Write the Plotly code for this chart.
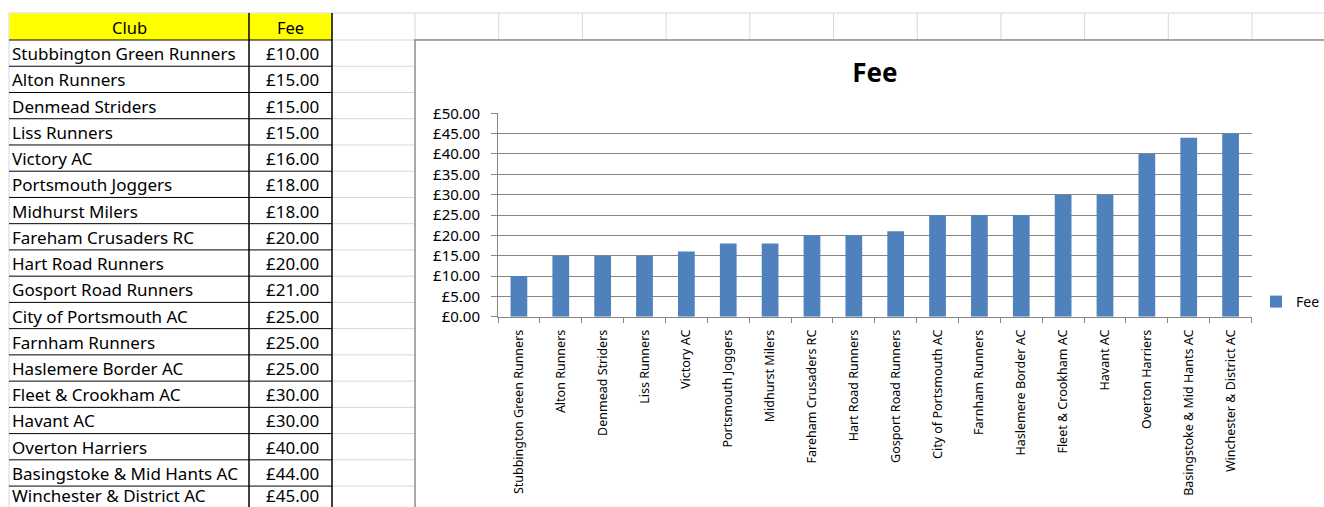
import plotly.graph_objects as go

clubs = ["Stubbington Green Runners", "Alton Runners", "Denmead Striders", "Liss Runners",
         "Victory AC", "Portsmouth Joggers", "Midhurst Milers", "Fareham Crusaders RC",
         "Hart Road Runners", "Gosport Road Runners", "City of Portsmouth AC", "Farnham Runners",
         "Haslemere Border AC", "Fleet & Crookham AC", "Havant AC", "Overton Harriers",
         "Basingstoke & Mid Hants AC", "Winchester & District AC"]
fees = [10, 15, 15, 15, 16, 18, 18, 20, 20, 21, 25, 25, 25, 30, 30, 40, 44, 45]
header = ["Club", "Fee"]
series_name = "Fee"

W, H = 1324, 507
FONT = "Noto Sans"
BAR = "#4F81BD"
GRID = "#868686"
SHEET = "#D0D7E5"
TABLE_FONT = 17


def px(x):
    return x / W


def py(y):
    return 1 - y / H


shapes = []
annotations = []

# spreadsheet grid (light lines)
row_top = 13.0
row_h0 = 27.0
row_h = 26.24
rows_y = [row_top, row_top + row_h0] + [row_top + row_h0 + row_h * (i + 1) for i in range(len(clubs) + 1)]
col_x = [415 + 83.7 * i for i in range(12)]
for y in rows_y:
    shapes.append(dict(type="line", xref="paper", yref="paper", x0=px(332), x1=px(1324),
                       y0=py(y), y1=py(y), line=dict(color=SHEET, width=1), layer="below"))
for x in col_x:
    shapes.append(dict(type="line", xref="paper", yref="paper", x0=px(x), x1=px(x),
                       y0=py(13), y1=py(40), line=dict(color=SHEET, width=1), layer="below"))
shapes.append(dict(type="line", xref="paper", yref="paper", x0=px(9), x1=px(332),
                   y0=py(13), y1=py(13), line=dict(color=SHEET, width=1), layer="below"))
shapes.append(dict(type="line", xref="paper", yref="paper", x0=px(9), x1=px(9),
                   y0=py(13), y1=py(H + 5), line=dict(color=SHEET, width=1), layer="below"))

# header fill
shapes.append(dict(type="rect", xref="paper", yref="paper", x0=px(9.5), x1=px(332), y0=py(13.5), y1=py(40),
                   fillcolor="#FFFF00", line=dict(width=0), layer="below"))
annotations.append(dict(text=header[0], xref="paper", yref="paper", x=px(129), y=py(27), showarrow=False,
                        xanchor="center", yanchor="middle", borderpad=0,
                        font=dict(family=FONT, size=TABLE_FONT - 0.5, color="#000000")))
annotations.append(dict(text=header[1], xref="paper", yref="paper", x=px(290.5), y=py(27), showarrow=False,
                        xanchor="center", yanchor="middle", borderpad=0,
                        font=dict(family=FONT, size=TABLE_FONT - 0.5, color="#000000")))

# table borders
for y in rows_y[1:]:
    shapes.append(dict(type="line", xref="paper", yref="paper", x0=px(9), x1=px(332),
                       y0=py(y), y1=py(y), line=dict(color="#000000", width=1)))
for x in (249, 332):
    shapes.append(dict(type="line", xref="paper", yref="paper", x0=px(x), x1=px(x),
                       y0=py(13), y1=py(H + 5), line=dict(color="#000000", width=1.5)))

# table cells
n = len(clubs)
for i, (c, f) in enumerate(zip(clubs, fees)):
    yc = (rows_y[i + 1] + rows_y[i + 2]) / 2 + 0.5
    if i == n - 1:
        yc = min(yc, 495.8)
    annotations.append(dict(text=c, xref="paper", yref="paper", x=px(11), y=py(yc), showarrow=False,
                            xanchor="left", yanchor="middle", borderpad=0,
                            font=dict(family=FONT, size=TABLE_FONT, color="#000000")))
    annotations.append(dict(text="£%.2f" % f, xref="paper", yref="paper", x=px(292.5), y=py(yc),
                            showarrow=False, xanchor="center", yanchor="middle", borderpad=0,
                            font=dict(family=FONT, size=TABLE_FONT, color="#000000")))

# chart area
shapes.append(dict(type="rect", xref="paper", yref="paper", x0=px(415), x1=px(W + 10), y0=py(40), y1=py(H + 10),
                   fillcolor="#FFFFFF", line=dict(color="#8C8C8C", width=1.5), layer="below"))

fig = go.Figure()
fig.add_trace(go.Bar(x=clubs, y=fees, name=series_name, marker=dict(color=BAR, line=dict(width=0)),
                     showlegend=True))

fig.update_layout(
    width=W, height=H,
    margin=dict(l=0, r=0, t=0, b=0, pad=0, autoexpand=False),
    paper_bgcolor="#FFFFFF", plot_bgcolor="rgba(0,0,0,0)",
    bargap=0.6,
    shapes=shapes,
    annotations=annotations,
    title=dict(text="<b>Fee</b>", x=px(875), y=py(73), xref="paper", yref="paper",
               xanchor="center", yanchor="middle", font=dict(family=FONT, size=26, color="#000000")),
    legend=dict(x=px(1256), y=py(302), xanchor="left", yanchor="middle", bgcolor="rgba(0,0,0,0)",
                font=dict(family=FONT, size=14, color="#000000"), itemwidth=30),
    xaxis=dict(domain=[px(498), px(1251.5)], tickangle=-90, showgrid=False,
               showline=True, linecolor=GRID, linewidth=1, ticks="outside", ticklen=5, tickcolor=GRID,
               tickson="boundaries", tickfont=dict(family=FONT, size=12.5, color="#000000"),
               ticklabelstandoff=7, fixedrange=True, automargin=False),
    yaxis=dict(domain=[py(316.7), py(113.3)], range=[0, 50], dtick=5, tick0=0,
               tickprefix="£", tickformat=".2f", showgrid=True, gridcolor=GRID, gridwidth=1,
               showline=True, linecolor=GRID, linewidth=1, ticks="outside", ticklen=6, tickcolor=GRID,
               tickfont=dict(family=FONT, size=15, color="#000000"), ticklabelstandoff=8,
               zeroline=False, fixedrange=True, automargin=False),
)

fig.write_html("out.html", config={"displayModeBar": False})

with open("out.html", encoding="utf-8") as fh:
    html = fh.read()
css = ("<style>html,body{margin:0;padding:0;overflow:hidden;background:#fff}"
       ".plotly-graph-div{position:absolute;top:0;left:0}</style>")
html = html.replace("<head>", "<head>" + css, 1)
with open("out.html", "w", encoding="utf-8") as fh:
    fh.write(html)
